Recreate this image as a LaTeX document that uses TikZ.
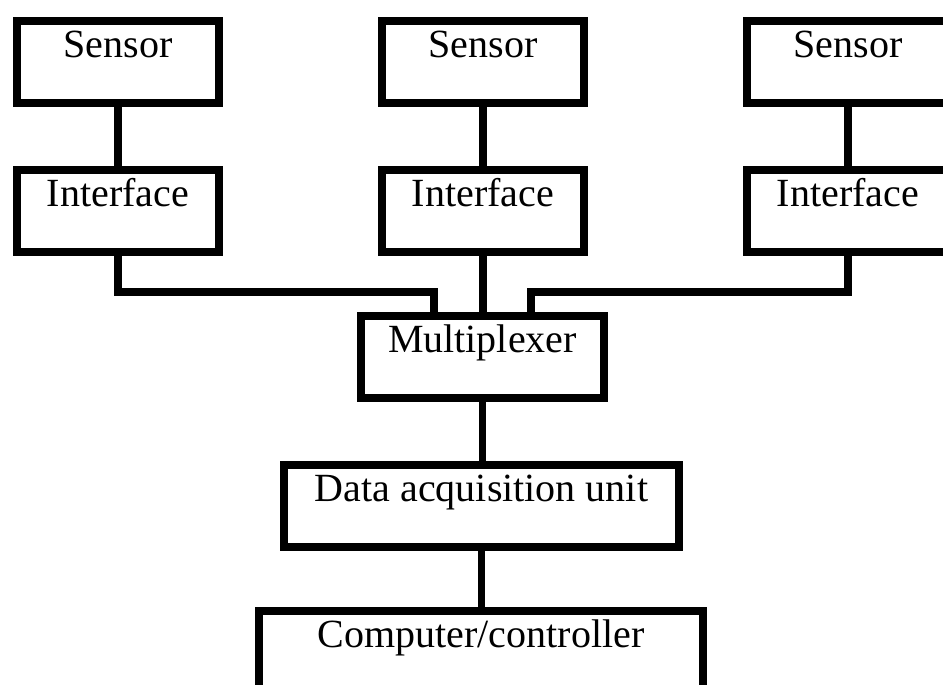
\documentclass[tikz,border=0pt]{standalone}
\usepackage{fontspec}
\setmainfont{Liberation Serif}
\usepackage{tikz}
\usetikzlibrary{calc}

\begin{document}
\begin{tikzpicture}[x=1pt,y=1pt,
  unit/.style={draw,line width=8pt,anchor=north,inner sep=0pt,
    text height=37pt,text depth=45pt,font=\fontsize{40pt}{48pt}\selectfont},
  link/.style={line width=7.5pt}]
\useasboundingbox (0,0) rectangle (943,685);
\clip (0,0) rectangle (943,685);
% sensors and interfaces
\foreach \n/\x in {1/118,2/483,3/848}{
  \node[unit,minimum width=202pt] (s\n) at (\x,668) {Sensor};
  \node[unit,minimum width=202pt] (i\n) at (\x,519) {Interface};
  \draw[link] (s\n.south) -- (i\n.north);
}
\node[unit,minimum width=243pt] (mux) at (482.5,373) {Multiplexer};
\node[unit,minimum width=395pt] (daq) at (481.5,224) {Data acquisition unit};
\node[unit,minimum width=444pt] (comp) at (481,78) {Computer/controller};
% bends into the multiplexer
\coordinate (jl) at (434,393);
\coordinate (jr) at (531,393);
\draw[link] (i1.south) |- (jl) -- (jl |- mux.north);
\draw[link] (i3.south) |- (jr) -- (jr |- mux.north);
\draw[link] (i2.south) -- (i2.south |- mux.north);
\draw[link] (mux.south) -- (mux.south |- daq.north);
\draw[link] (daq.south) -- (daq.south |- comp.north);
\end{tikzpicture}
\end{document}
